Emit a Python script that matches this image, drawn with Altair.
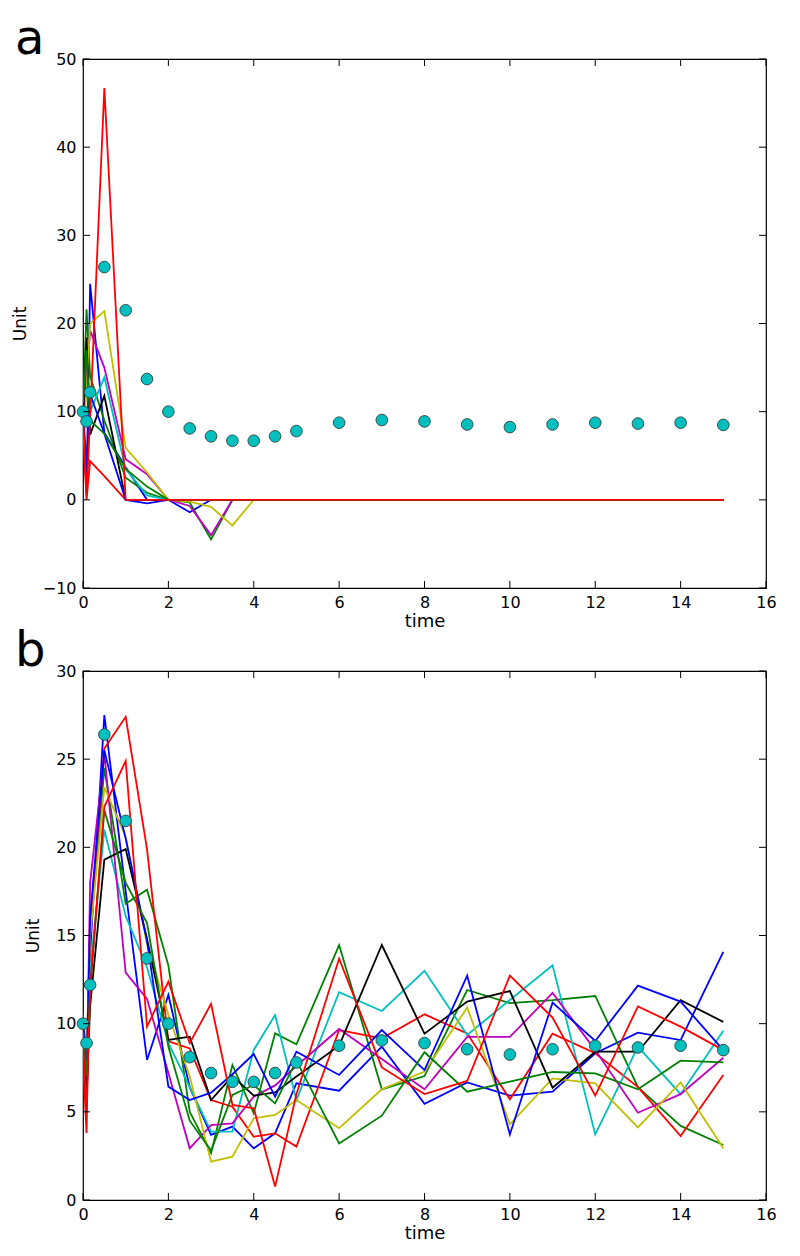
import altair as alt
import pandas as pd

# ---- data -------------------------------------------------------------
times = [0, 0.083, 0.167, 0.5, 1, 1.5, 2, 2.5, 3, 3.5, 4, 4.5, 5,
         6, 7, 8, 9, 10, 11, 12, 13, 14, 15]

mean_vals = [10.0, 8.9, 12.2, 26.4, 21.5, 13.7, 10.0, 8.1, 7.2, 6.7, 6.7, 7.2, 7.8,
             8.75, 9.05, 8.9, 8.55, 8.25, 8.55, 8.75, 8.65, 8.75, 8.5]

# panel a: individual fits (lines)
a_blue1 = [9, 1.0, 24.5, 7.6, 3.7, 0, 0, -1.4, 0, 0, 0, 0, 0, 0, 0, 0, 0, 0, 0, 0, 0, 0, 0]
a_green1 = [10, 21.6, 14, 9, 2.5, 0.8, 0, -0.3, -4.5, 0, 0, 0, 0, 0, 0, 0, 0, 0, 0, 0, 0, 0, 0]
a_red1 = [8, 0, 4.4, 2.7, 0, 0, 0, 0, 0, 0, 0, 0, 0, 0, 0, 0, 0, 0, 0, 0, 0, 0, 0]
a_cyan = [7, 5, 10, 13.9, 3.5, 0.5, 0, 0, 0, 0, 0, 0, 0, 0, 0, 0, 0, 0, 0, 0, 0, 0, 0]
a_magenta = [9, 14, 19.2, 15, 4.6, 2.9, 0, -0.7, -4.0, 0, 0, 0, 0, 0, 0, 0, 0, 0, 0, 0, 0, 0, 0]
a_yellow = [8, 12, 20, 21.4, 5.9, 3.1, 0, -0.2, -0.8, -2.9, 0, 0, 0, 0, 0, 0, 0, 0, 0, 0, 0, 0, 0]
a_black = [9, 18.4, 7.4, 11.8, 0, 0, 0, 0, 0, 0, 0, 0, 0, 0, 0, 0, 0, 0, 0, 0, 0, 0, 0]
a_blue2 = [10, 4, 12, 7.5, 0, -0.4, 0, 0, 0, 0, 0, 0, 0, 0, 0, 0, 0, 0, 0, 0, 0, 0, 0]
a_green2 = [11, 17, 9, 7.5, 3.5, 1.5, 0, 0, 0, 0, 0, 0, 0, 0, 0, 0, 0, 0, 0, 0, 0, 0, 0]
a_red2 = [10, 0.5, 9.3, 46.7, 0, 0, 0, 0, 0, 0, 0, 0, 0, 0, 0, 0, 0, 0, 0, 0, 0, 0, 0]

# panel b: individual fits (lines)
b_blue1 = [9.5, 5.3, 14, 27.5, 17.5, 7.94, 11.63, 6.4, 3.69, 4.16, 2.93, 3.78, 6.62,
           6.2, 8.7, 5.45, 6.67, 5.92, 6.14, 8.32, 9.49, 9.07, 14.07]
b_green1 = [10.5, 8, 15, 24.5, 16.8, 17.6, 13.3, 5.0, 2.65, 7.66, 4.92, 9.45, 8.83,
            14.46, 6.28, 7.03, 11.91, 11.17, 11.34, 11.57, 6.4, 4.2, 3.12]
b_red1 = [8, 3.8, 15, 25.6, 27.4, 19.9, 9.0, 8.6, 5.67, 5.29, 3.59, 3.78, 3.03,
          9.64, 9.17, 10.53, 9.45, 5.71, 9.43, 8.32, 6.4, 3.63, 7.09]
b_cyan = [9.5, 8, 13, 21.0, 16.1, 13.2, 8.9, 6.4, 3.88, 3.88, 8.51, 10.49, 5.67,
          11.78, 10.72, 13.0, 9.36, 11.34, 13.31, 3.72, 8.7, 6.0, 9.6]
b_magenta = [10, 6.5, 18, 25.3, 12.9, 11.4, 7.2, 2.93, 4.25, 4.35, 5.86, 6.5, 7.6,
             9.7, 8.0, 6.28, 9.25, 9.25, 11.74, 8.5, 4.95, 6.0, 8.07]
b_yellow = [9, 7.5, 15, 23.4, 20.6, 14.5, 10.5, 7.0, 2.17, 2.46, 4.63, 4.82, 5.67,
            4.07, 6.28, 7.28, 10.91, 4.29, 6.9, 6.62, 4.12, 6.67, 2.93]
b_black = [9, 6, 11, 19.3, 19.9, 14.8, 9.08, 9.26, 5.67, 7.03, 5.92, 6.1, 7.0,
           8.75, 14.46, 9.43, 11.25, 11.85, 6.37, 8.41, 8.41, 11.33, 10.1]
b_blue2 = [10, 7, 16, 25.5, 20.5, 14.7, 6.43, 5.67, 6.09, 7.13, 8.28, 5.86, 8.41,
           7.09, 9.64, 7.37, 12.72, 3.72, 11.19, 9.02, 12.16, 11.25, 8.5]
b_green2 = [9.5, 7, 12, 22.1, 18.0, 15.7, 8.7, 4.5, 2.8, 5.96, 6.52, 5.48, 7.9,
            3.21, 4.78, 8.38, 6.14, 6.71, 7.26, 7.18, 6.28, 7.9, 7.8]
b_red2 = [9, 5, 12, 22.3, 24.9, 9.83, 12.38, 8.9, 11.12, 5.39, 5.2, 0.76, 6.0,
          13.69, 7.52, 6.01, 6.75, 12.72, 10.34, 5.92, 10.98, 9.83, 8.5]

x_ticks = [0, 2, 4, 6, 8, 10, 12, 14, 16]
a_y_ticks = [-10, 0, 10, 20, 30, 40, 50]
b_y_ticks = [0, 5, 10, 15, 20, 25, 30]

line_names = ["L01", "L02", "L03", "L04", "L05", "L06", "L07", "L08", "L09", "L10"]
line_colors = ["#0000FF", "#008000", "#FF0000", "#00BFBF", "#BF00BF",
               "#BFBF00", "#000000", "#0000FF", "#008000", "#FF0000"]

a_series = [a_blue1, a_green1, a_red1, a_cyan, a_magenta, a_yellow, a_black,
            a_blue2, a_green2, a_red2]
b_series = [b_blue1, b_green1, b_red1, b_cyan, b_magenta, b_yellow, b_black,
            b_blue2, b_green2, b_red2]

W, H = 683, 529
TICK = 7
FONT = "DejaVu Sans"


def long_df(series_list):
    rows = []
    for name, s in zip(line_names, series_list):
        for t, v in zip(times, s):
            rows.append({"line": name, "time": t, "value": v})
    return pd.DataFrame(rows)


def panel(series_list, ydomain, yticks, letter):
    df = long_df(series_list)
    mean_df = pd.DataFrame({"time": times, "value": mean_vals})
    xt = pd.DataFrame({"time": x_ticks})
    yt = pd.DataFrame({"value": yticks})

    xscale = alt.Scale(domain=[0, 16], nice=False, zero=False)
    yscale = alt.Scale(domain=ydomain, nice=False, zero=False)

    x_enc = alt.X("time:Q", scale=xscale,
                  axis=alt.Axis(values=x_ticks, title="time", ticks=False, domain=False,
                                grid=False, labelPadding=6, titlePadding=2,
                                labelFontSize=16, titleFontSize=18, labelFont=FONT,
                                titleFont=FONT, labelColor="black", titleColor="black",
                                titleFontWeight="normal", labelFlush=False))
    y_enc = alt.Y("value:Q", scale=yscale,
                  axis=alt.Axis(values=yticks, title="Unit", ticks=False, domain=False,
                                grid=False, labelPadding=7, titlePadding=13,
                                labelFontSize=16, titleFontSize=17, labelFont=FONT,
                                titleFont=FONT, labelColor="black", titleColor="black",
                                titleFontWeight="normal", labelFlush=False))

    lines = alt.Chart(df).mark_line(strokeWidth=1.8, clip=True).encode(
        x=x_enc, y=y_enc,
        color=alt.Color("line:N", scale=alt.Scale(domain=line_names, range=line_colors),
                        legend=None),
    )
    dots = alt.Chart(mean_df).mark_circle(size=135, color="#00BFBF", opacity=1,
                                          stroke="#2f4f4f", strokeWidth=1).encode(
        x=alt.X("time:Q", scale=xscale), y=alt.Y("value:Q", scale=yscale))

    tick_bottom = alt.Chart(xt).mark_rule(color="black", strokeWidth=1).encode(
        x=alt.X("time:Q", scale=xscale), y=alt.value(H), y2=alt.value(H - TICK))
    tick_top = alt.Chart(xt).mark_rule(color="black", strokeWidth=1).encode(
        x=alt.X("time:Q", scale=xscale), y=alt.value(0), y2=alt.value(TICK))
    tick_left = alt.Chart(yt).mark_rule(color="black", strokeWidth=1).encode(
        y=alt.Y("value:Q", scale=yscale), x=alt.value(0), x2=alt.value(TICK))
    tick_right = alt.Chart(yt).mark_rule(color="black", strokeWidth=1).encode(
        y=alt.Y("value:Q", scale=yscale), x=alt.value(W), x2=alt.value(W - TICK))

    return alt.layer(lines, dots, tick_bottom, tick_top, tick_left, tick_right).properties(
        width=W, height=H,
        title=alt.TitleParams(text=letter, anchor="start", frame="group", dx=-68,
                              fontSize=48, font=FONT, fontWeight="normal",
                              color="black", offset=-13),
    )


pa = panel(a_series, [-10, 50], a_y_ticks, "a")
pb = panel(b_series, [0, 30], b_y_ticks, "b")

chart = alt.vconcat(pa, pb, spacing=-4).properties(
    padding={"left": 2, "top": 7, "right": 5, "bottom": 5},
    background="white",
).configure_view(stroke="black", strokeWidth=1.2)

chart.save("out.html", embed_options={"renderer": "svg", "actions": False})
